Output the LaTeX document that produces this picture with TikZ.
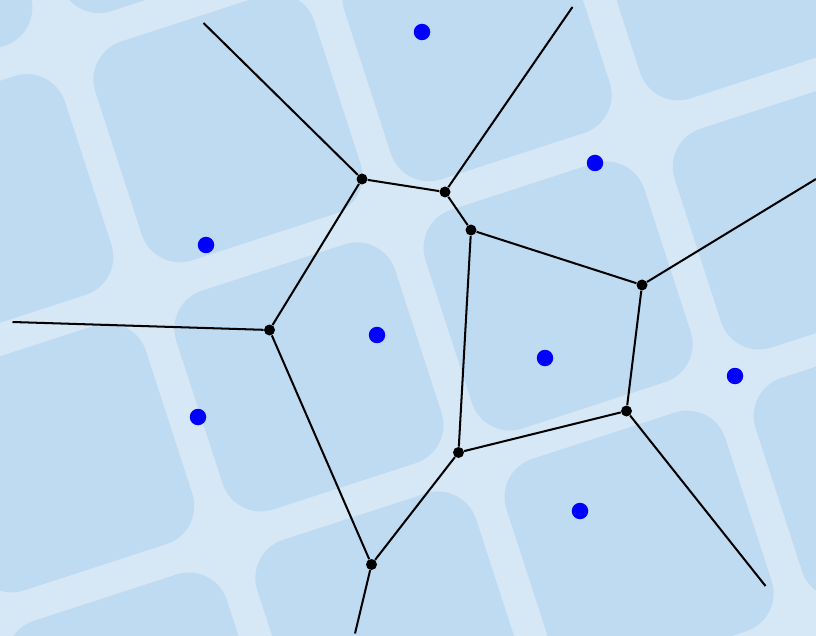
\documentclass[tikz,border=0pt]{standalone}
\usepackage{xcolor}
\usepackage{tikz}
\usetikzlibrary{positioning}
\definecolor{gapblue}{HTML}{D6E7F6}
\definecolor{tileblue}{HTML}{BEDBF2}
\definecolor{siteblue}{HTML}{0000FF}
\tikzset{
  tile/.style={fill=tileblue,rounded corners=0.8cm},
  site/.style={circle,fill=siteblue,inner sep=0pt,minimum size=3.3mm},
  vertex/.style={circle,fill=black,inner sep=0pt,minimum size=2.2mm},
  edge/.style={draw=black,line width=1.15pt}
}
\begin{document}
\begin{tikzpicture}[x=0.2mm,y=-0.2mm]
  \useasboundingbox (0,0) rectangle (816,636);
  \fill[gapblue] (0,0) rectangle (816,636);
  % tiled background
  \begin{scope}
    \clip (0,0) rectangle (816,636);
    \begin{scope}[shift={(474,461)},rotate=18]
      \foreach \i in {-3,...,2}
        \foreach \j in {-3,...,2}
          \path[tile] (\i*262+16,\j*262+16) rectangle ++(230,230);
    \end{scope}
  \end{scope}
  % sites
  \node[site] (s1) at (422,32) {};
  \node[site] (s2) at (595,163) {};
  \node[site] (s3) at (206,245) {};
  \node[site] (s4) at (377,335) {};
  \node[site] (s5) at (545,358) {};
  \node[site] (s6) at (735,376) {};
  \node[site] (s7) at (198,417) {};
  \node[site] (s8) at (580,511) {};
  % voronoi vertices
  \node[vertex] (v1) at (362,179) {};
  \node[vertex] (v2) at (445,192) {};
  \node[vertex] (v3) at (471,230) {};
  \node[vertex] (v4) at (642,285) {};
  \node[vertex] (v5) at (269.5,330) {};
  \node[vertex] (v6) at (626.5,411) {};
  \node[vertex] (v7) at (458.5,452.5) {};
  \node[vertex] (v8) at (371.5,564.5) {};
  % open ends
  \coordinate (e1) at (203.5,23);
  \coordinate (e2) at (572.5,7);
  \coordinate (e3) at (816,179);
  \coordinate (e4) at (12.5,322);
  \coordinate (e5) at (765.5,586);
  \coordinate (e6) at (355,633.5);
  % edges
  \draw[edge] (v1) -- (v2);
  \draw[edge] (v2) -- (v3);
  \draw[edge] (v3) -- (v4);
  \draw[edge] (v3) -- (v7);
  \draw[edge] (v1) -- (v5);
  \draw[edge] (v5) -- (v8);
  \draw[edge] (v8) -- (v7);
  \draw[edge] (v7) -- (v6);
  \draw[edge] (v6) -- (v4);
  \draw[edge] (v1) -- (e1);
  \draw[edge] (v2) -- (e2);
  \draw[edge] (v4) -- (e3);
  \draw[edge] (v5) -- (e4);
  \draw[edge] (v6) -- (e5);
  \draw[edge] (v8) -- (e6);
\end{tikzpicture}
\end{document}
